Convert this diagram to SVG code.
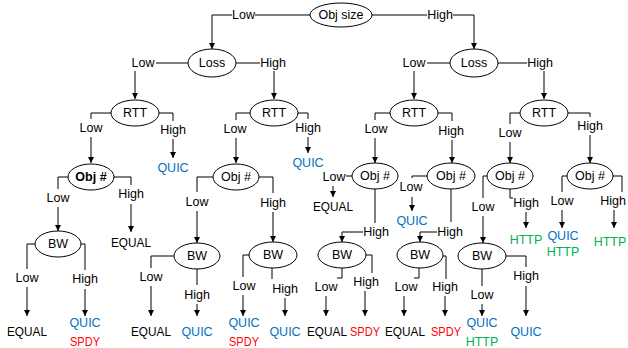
<svg xmlns="http://www.w3.org/2000/svg" width="628" height="348" viewBox="0 0 628 348">
<defs>
<marker id="ah" markerUnits="userSpaceOnUse" markerWidth="7" markerHeight="7" refX="6" refY="3" orient="auto"><path d="M0,0 L6,3 L0,6 z" fill="#000"/></marker>
<style>
.t{font-family:"Liberation Sans",Arial,sans-serif;font-size:12.5px;text-anchor:middle;dominant-baseline:central;fill:#000}
.b{font-weight:bold}
.q{fill:#0070C0}.s{fill:#FF0000}.h{fill:#00B050}
ellipse{fill:#fff;stroke:#000;stroke-width:1}
#connectors path{fill:none;stroke:#000;stroke-width:1}
#connectors path.a{marker-end:url(#ah)}
</style>
</defs>
<rect width="628" height="348" fill="#fff"/>
<g id="connectors">
<path d="M310,15 H255"/><path class="a" d="M232,15 H212 V49"/>
<path d="M372,15 H427"/><path class="a" d="M453,15 H474 V49"/>
<path d="M188,63 H156"/><path class="a" d="M135,71 V99"/>
<path d="M236,63 H260"/><path class="a" d="M274,71 V99"/>
<path d="M450,63 H427"/><path class="a" d="M414,71 V99"/>
<path d="M498,63 H527"/><path class="a" d="M544,71 V99"/>
<path d="M111,113 H91 V119"/><path class="a" d="M91,137 V163"/>
<path d="M159,113 H173 V121"/><path class="a" d="M173,139 V158"/>
<path d="M68,177 H58 V189"/><path class="a" d="M58,207 V231"/>
<path d="M114,177 H131 V185"/><path class="a" d="M131,204 V232"/>
<path d="M35,244 H27 V269"/><path class="a" d="M27,287 V316"/>
<path d="M81,244 H85 V270"/><path class="a" d="M85,289 V316"/>
<path d="M250,113 H236 V120"/><path class="a" d="M236,138 V163"/>
<path d="M298,113 H308 V119"/><path class="a" d="M308,137 V153"/>
<path d="M213,177 H197 V192"/><path class="a" d="M197,211 V243"/>
<path d="M259,177 H273 V193"/><path class="a" d="M273,212 V242"/>
<path d="M174,256 H151 V268"/><path class="a" d="M151,286 V316"/>
<path d="M197,269 V285"/><path class="a" d="M197,304 V316"/>
<path d="M249,255 H243 V277"/><path class="a" d="M243,295 V316"/>
<path d="M272,268 V279"/><path class="a" d="M285,298 V316"/>
<path d="M390,113 H375 V120"/><path class="a" d="M375,138 V163"/>
<path d="M438,113 H452 V121"/><path class="a" d="M452,140 V163"/>
<path d="M352,176 H346"/><path class="a" d="M333,186 V197"/>
<path d="M375,189 V223"/><path class="a" d="M363,232 H342 V242"/>
<path d="M427,176 H412 V178"/><path class="a" d="M412,197 V211"/>
<path d="M451,189 V222"/><path class="a" d="M437,232 H420 V242"/>
<path d="M342,268 V278 H337"/><path class="a" d="M326,296 V316"/>
<path d="M366,255 H372 V273"/><path class="a" d="M365,291 V316"/>
<path d="M419,268 V278 H414"/><path class="a" d="M404,296 V316"/>
<path d="M443,256 H446 V279"/><path class="a" d="M445,296 V316"/>
<path d="M520,113 H510 V124"/><path class="a" d="M510,142 V163"/>
<path d="M568,113 H590 V117"/><path class="a" d="M590,135 V163"/>
<path d="M487,176 H483 V198"/><path class="a" d="M483,216 V243"/>
<path d="M510,189 V198 H513"/><path class="a" d="M526,212 V228"/>
<path d="M567,176 H562 V192"/><path class="a" d="M562,210 V228"/>
<path d="M613,176 H622 V192"/><path class="a" d="M614,210 V228"/>
<path d="M482,269 V286"/><path class="a" d="M482,304 V316"/>
<path d="M506,256 H526 V267"/><path class="a" d="M526,286 V316"/>
</g>
<g id="edge-labels">
<text class="t" x="243.5" y="15">Low</text><text class="t" x="440" y="15">High</text>
<text class="t" x="143" y="63">Low</text><text class="t" x="273" y="63">High</text>
<text class="t" x="414" y="63">Low</text><text class="t" x="540" y="63">High</text>
<text class="t" x="91" y="128">Low</text><text class="t" x="173" y="130">High</text>
<text class="t" x="58" y="198">Low</text><text class="t" x="131" y="194">High</text>
<text class="t" x="27" y="278">Low</text><text class="t" x="85" y="279">High</text>
<text class="t" x="235" y="129">Low</text><text class="t" x="308" y="128">High</text>
<text class="t" x="197" y="202">Low</text><text class="t" x="273" y="203">High</text>
<text class="t" x="151" y="277">Low</text><text class="t" x="197" y="295">High</text>
<text class="t" x="244" y="286">Low</text><text class="t" x="285" y="289">High</text>
<text class="t" x="376" y="129">Low</text><text class="t" x="451" y="131">High</text>
<text class="t" x="334" y="177">Low</text><text class="t" x="376" y="232">High</text>
<text class="t" x="411" y="187">Low</text><text class="t" x="450" y="232">High</text>
<text class="t" x="326" y="287">Low</text><text class="t" x="366" y="282">High</text>
<text class="t" x="406" y="287">Low</text><text class="t" x="445" y="287">High</text>
<text class="t" x="510" y="133">Low</text><text class="t" x="590" y="126">High</text>
<text class="t" x="483" y="207">Low</text><text class="t" x="526" y="203">High</text>
<text class="t" x="562" y="201">Low</text><text class="t" x="613" y="201">High</text>
<text class="t" x="482" y="295">Low</text><text class="t" x="526" y="276">High</text>
</g>
<g id="root"><ellipse cx="341" cy="15" rx="31" ry="12"/><text class="t" x="341" y="15">Obj size</text></g>
<g id="loss-l"><ellipse cx="212" cy="63" rx="24" ry="14"/><text class="t" x="212" y="63">Loss</text></g>
<g id="loss-r"><ellipse cx="474" cy="63" rx="24" ry="14"/><text class="t" x="474" y="63">Loss</text></g>
<g id="rtt-1"><ellipse cx="135" cy="113" rx="24" ry="13"/><text class="t" x="135" y="113">RTT</text></g>
<g id="rtt-2"><ellipse cx="274" cy="113" rx="24" ry="13"/><text class="t" x="274" y="113">RTT</text></g>
<g id="rtt-3"><ellipse cx="414" cy="113" rx="24" ry="13"/><text class="t" x="414" y="113">RTT</text></g>
<g id="rtt-4"><ellipse cx="544" cy="113" rx="24" ry="13"/><text class="t" x="544" y="113">RTT</text></g>
<g id="obj-1"><ellipse cx="91" cy="177" rx="23" ry="13"/><text class="t b" x="91" y="177">Obj #</text></g>
<g id="obj-2"><ellipse cx="236" cy="177" rx="23" ry="13"/><text class="t" x="236" y="177">Obj #</text></g>
<g id="obj-3"><ellipse cx="375" cy="176" rx="23" ry="13"/><text class="t" x="375" y="176">Obj #</text></g>
<g id="obj-4"><ellipse cx="451" cy="176" rx="24" ry="13"/><text class="t" x="451" y="176">Obj #</text></g>
<g id="obj-5"><ellipse cx="510" cy="176" rx="23" ry="13"/><text class="t" x="510" y="176">Obj #</text></g>
<g id="obj-6"><ellipse cx="590" cy="176" rx="23" ry="13"/><text class="t" x="590" y="176">Obj #</text></g>
<g id="bw-1"><ellipse cx="58" cy="244" rx="23" ry="13"/><text class="t" x="58" y="244">BW</text></g>
<g id="bw-2"><ellipse cx="197" cy="256" rx="23" ry="13"/><text class="t" x="197" y="256">BW</text></g>
<g id="bw-3"><ellipse cx="273" cy="255" rx="24" ry="13"/><text class="t" x="273" y="255">BW</text></g>
<g id="bw-4"><ellipse cx="342" cy="255" rx="24" ry="13"/><text class="t" x="342" y="255">BW</text></g>
<g id="bw-5"><ellipse cx="420" cy="255" rx="23" ry="13"/><text class="t" x="420" y="255">BW</text></g>
<g id="bw-6"><ellipse cx="482" cy="256" rx="24" ry="13"/><text class="t" x="482" y="256">BW</text></g>
<g id="leaf-1"><text class="t q" x="173" y="168">QUIC</text></g>
<g id="leaf-2"><text class="t" x="131" y="243" textLength="40" lengthAdjust="spacingAndGlyphs">EQUAL</text></g>
<g id="leaf-3"><text class="t" x="27" y="332" textLength="40" lengthAdjust="spacingAndGlyphs">EQUAL</text></g>
<g id="leaf-4"><text class="t q" x="85" y="323">QUIC</text><text class="t s" x="85" y="342" textLength="30" lengthAdjust="spacingAndGlyphs">SPDY</text></g>
<g id="leaf-5"><text class="t q" x="308" y="163">QUIC</text></g>
<g id="leaf-6"><text class="t" x="151" y="332" textLength="40" lengthAdjust="spacingAndGlyphs">EQUAL</text></g>
<g id="leaf-7"><text class="t q" x="197" y="332">QUIC</text></g>
<g id="leaf-8"><text class="t q" x="244" y="323">QUIC</text><text class="t s" x="244" y="342" textLength="30" lengthAdjust="spacingAndGlyphs">SPDY</text></g>
<g id="leaf-9"><text class="t q" x="285" y="332">QUIC</text></g>
<g id="leaf-10"><text class="t" x="333" y="207" textLength="40" lengthAdjust="spacingAndGlyphs">EQUAL</text></g>
<g id="leaf-11"><text class="t q" x="412" y="221">QUIC</text></g>
<g id="leaf-12"><text class="t" x="327" y="332" textLength="40" lengthAdjust="spacingAndGlyphs">EQUAL</text></g>
<g id="leaf-13"><text class="t s" x="365" y="332" textLength="30" lengthAdjust="spacingAndGlyphs">SPDY</text></g>
<g id="leaf-14"><text class="t" x="405" y="332" textLength="40" lengthAdjust="spacingAndGlyphs">EQUAL</text></g>
<g id="leaf-15"><text class="t s" x="446" y="332" textLength="30" lengthAdjust="spacingAndGlyphs">SPDY</text></g>
<g id="leaf-16"><text class="t h" x="526" y="240">HTTP</text></g>
<g id="leaf-17"><text class="t q" x="563" y="236">QUIC</text><text class="t h" x="563" y="252">HTTP</text></g>
<g id="leaf-18"><text class="t h" x="610" y="242">HTTP</text></g>
<g id="leaf-19"><text class="t q" x="482" y="323">QUIC</text><text class="t h" x="482" y="342">HTTP</text></g>
<g id="leaf-20"><text class="t q" x="526" y="332">QUIC</text></g>
</svg>
